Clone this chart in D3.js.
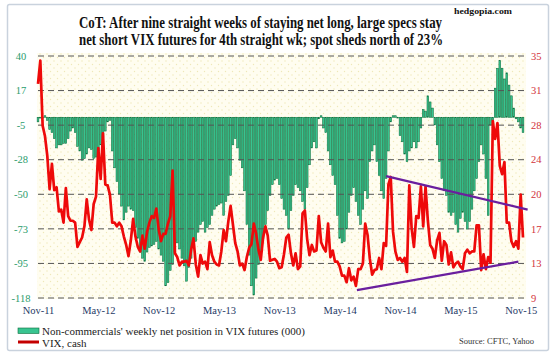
<!DOCTYPE html>
<html><head><meta charset="utf-8">
<script src="https://cdn.jsdelivr.net/npm/d3@7/dist/d3.min.js"></script>
<style>
html,body{margin:0;padding:0;background:#fff;}
svg{display:block;}
text{font-family:"Liberation Serif","Times New Roman",serif;}
</style></head>
<body>
<svg id="c" width="555" height="357"></svg>
<script>
// ---- DATA ----
const startDate = "2011-11-18"; // first weekly observation (weekly thereafter)
const netPosition = [ // non-commercials weekly net position, thousands
 -3,0,0,1,-2,-8,-10,-14,-20,-18,-18,-17,-17,-14,-9,-7,-10,-19,-22,-28,
 -27,-24,-20,-21,-27,-26,-22,-18,-13,-9,-3,-2,-22,-33,-42,-50,-58,-67,-62,-58,
 -60,-61,-72,-79,-88,-92,-94,-88,-85,-84,-83,-81,-86,-90,-94,-110,-108,-100,-96,-88,
 -82,-86,-92,-97,-107,-98,-92,-85,-81,-75,-70,-68,-75,-72,-70,-64,-60,-58,-57,-56,
 -64,-55,-51,-38,-18,-14,-20,-28,-33,-48,-70,-90,-110,-116,-105,-96,-88,-79,-70,-61,
 -51,-44,-41,-40,-44,-53,-60,-64,-73,-61,-51,-44,-46,-48,-55,-60,-46,-31,-20,-16,
 -20,-1,1,-7,-10,-22,-31,-38,-44,-64,-79,-82,-81,-73,-62,-51,-46,-55,-64,-70,
 -60,-48,-53,-29,-22,-18,-29,-38,-48,-53,-40,-22,-3,1,1,0,-12,-16,-24,-29,
 -22,-20,-16,-20,-16,-7,5,4,14,10,6,-5,-18,-29,-40,-48,-51,-62,-64,-62,
 -70,-75,-66,-62,-68,-73,-68,-60,-48,-40,-29,-18,-24,-40,-64,-5,-2,19,32,37,
 32,25,29,21,14,6,-1,-3,-7,-10
];
const vixCash = [ // VIX weekly close
 32.0,34.5,27.5,26.4,24.3,20.7,23.4,
 20.6,20.9,18.3,18.5,17.1,20.8,17.8,17.3,17.3,17.1,14.5,15.0,15.5,16.7,19.6,17.4,16.3,19.1,19.9,25.1,
 21.8,26.7,21.2,21.1,20.1,17.1,17.1,16.7,17.1,16.7,15.6,14.7,13.5,15.2,17.5,15.6,14.5,14.0,15.7,14.3,
 16.1,17.1,17.8,17.6,18.6,16.4,15.1,15.9,15.9,17.0,17.8,22.7,
 13.8,13.4,12.5,12.9,12.9,13.0,12.5,14.2,15.4,12.6,11.3,13.6,12.7,12.9,12.1,15.0,13.6,12.9,12.6,12.5,
 14.0,16.3,15.1,17.2,18.9,16.9,14.9,14.0,12.5,12.7,12.0,13.4,14.4,14.8,17.0,15.9,14.2,13.1,15.5,16.7,
 15.7,13.0,13.1,13.2,12.9,12.2,12.3,13.7,15.5,15.8,13.8,12.5,
 13.8,12.1,12.4,18.1,18.4,15.3,13.6,14.7,14.0,14.1,17.8,15.0,14.4,14.0,17.0,13.4,14.1,12.9,12.9,12.4,
 11.4,11.4,10.7,12.2,10.9,11.3,10.3,12.1,12.1,12.7,17.0,15.8,13.2,11.5,12.0,12.1,13.3,12.1,14.9,14.6,
 21.2,22.0,16.1,14.0,13.1,13.3,12.9,13.3,11.8,21.1,16.5,14.5,
 17.8,17.6,21.0,16.7,21.0,17.3,14.7,14.3,13.3,15.2,16.0,13.0,15.1,14.7,12.6,13.9,12.3,12.7,12.9,12.4,
 12.1,13.8,14.2,13.8,14.0,14.0,16.8,16.8,12.0,13.7,12.1,13.4,12.8,28.0,26.1,27.8,23.2,22.3,23.6,17.1,
 17.1,15.1,14.5,15.1,14.3,20.1,15.5
];
const trendUpper = [ ["2014-10-03", 22.1], ["2015-12-04", 18.5] ];
const trendLower = [ ["2014-07-07", 9.85], ["2015-11-06", 12.9] ];
const leftTickLabels  = ["40","17","-5","-28","-50","-73","-95","-118"];
const rightTickLabels = ["35","31","28","24","20","17","13","9"];
const xLabelEvery = 26; // weeks between x labels
const titleLines = ["CoT: After nine straight weeks of staying net long, large specs stay",
                    "net short VIX futures for 4th straight wk; spot sheds north of 23%"];
const legendLabels = ["Non-commercials' weekly net position in VIX futures (000)", "VIX, cash"];
const siteLabel = "hedgopia.com";
const sourceLabel = "Source: CFTC, Yahoo";

// ---- CHART ----
const svg = d3.select("#c");
const parse = d3.timeParse("%Y-%m-%d");
const t0 = parse(startDate);
const dates = d3.range(vixCash.length).map(i => d3.timeDay.offset(t0, 7*i));

const L = 38, R = 523, T = 56, B = 298;
const x = d3.scaleTime().domain([dates[0], dates[dates.length-1]]).range([L, R]);
const yL = d3.scaleLinear().domain([-118, 40]).range([B, T]);
const yR = d3.scaleLinear().domain([9, 35]).range([B, T]);

// outer frame
svg.append("rect").attr("x",7.5).attr("y",4.5).attr("width",541).attr("height",346)
  .attr("fill","#fff").attr("stroke","#c9d2dd").attr("stroke-width",1.5).attr("rx",2);

// plot background with dot pattern
const defs = svg.append("defs");
const pat = defs.append("pattern").attr("id","dots").attr("width",7).attr("height",7)
  .attr("patternUnits","userSpaceOnUse");
pat.append("rect").attr("width",7).attr("height",7).attr("fill","#fffdf0");
pat.append("circle").attr("cx",1.5).attr("cy",1.5).attr("r",0.7).attr("fill","#efe8b8");
pat.append("circle").attr("cx",5).attr("cy",5).attr("r",0.7).attr("fill","#efe8b8");
svg.append("rect").attr("x",L-1).attr("y",T-3).attr("width",R-L+4).attr("height",B-T+4)
  .attr("fill","url(#dots)");

// bars
const bw = (x(dates[1]) - x(dates[0]));
svg.append("g").selectAll("rect").data(netPosition).join("rect")
  .attr("x",(d,i)=>x(dates[i]) - bw/2 + 0.3)
  .attr("width",bw - 0.6)
  .attr("y",d=>Math.min(yL(d), yL(0)))
  .attr("height",d=>Math.max(0.8, Math.abs(yL(d)-yL(0))))
  .attr("fill","#38c490").attr("stroke","#0b6e3c").attr("stroke-width",0.55);

// gridlines
const leftVals = d3.range(leftTickLabels.length).map(k => 40 - k*158/(leftTickLabels.length-1));
const rightVals = d3.range(rightTickLabels.length).map(k => 35 - k*26/(rightTickLabels.length-1));
svg.append("g").selectAll("line").data(leftVals).join("line")
  .attr("x1",L).attr("x2",R+2).attr("y1",d=>yL(d)).attr("y2",d=>yL(d))
  .attr("stroke","#555").attr("stroke-width",1).attr("stroke-dasharray","6,4");

// axes
const axL = svg.append("g").attr("transform",`translate(21,0)`)
  .call(d3.axisLeft(yL).tickValues(leftVals).tickFormat((d,i)=>leftTickLabels[i]).tickSize(0).tickPadding(0));
axL.select(".domain").remove();
axL.selectAll("text").attr("text-anchor","middle").attr("fill","#2b9c6c").attr("dy","0.3em")
  .style("font-family","Liberation Serif, serif").style("font-size","10.5px");

const axR = svg.append("g").attr("transform",`translate(531,0)`)
  .call(d3.axisRight(yR).tickValues(rightVals).tickFormat((d,i)=>rightTickLabels[i]).tickSize(0).tickPadding(0));
axR.select(".domain").remove();
axR.selectAll("text").attr("fill","#d2323a").attr("dy","0.3em")
  .style("font-family","Liberation Serif, serif").style("font-size","10.5px");

const xTickDates = dates.filter((d,i)=> i % xLabelEvery === 0);
const axX = svg.append("g").attr("transform",`translate(0,314)`)
  .call(d3.axisBottom(x).tickValues(xTickDates).tickFormat(d3.timeFormat("%b-%y")).tickSize(0).tickPadding(0));
axX.select(".domain").remove();
axX.selectAll("text").attr("fill","#1f3a66").attr("dy","0")
  .style("font-family","Liberation Serif, serif").style("font-size","10.5px");

// VIX line
svg.append("path").datum(vixCash)
  .attr("d", d3.line().x((d,i)=>x(dates[i])).y(d=>yR(d)))
  .attr("fill","none").attr("stroke","#ee0a0a").attr("stroke-width",2.7).attr("stroke-linejoin","round");

// trend lines
[trendUpper, trendLower].forEach(tl=>{
  svg.append("line")
    .attr("x1",x(parse(tl[0][0]))).attr("y1",yR(tl[0][1]))
    .attr("x2",x(parse(tl[1][0]))).attr("y2",yR(tl[1][1]))
    .attr("stroke","#6a1f9e").attr("stroke-width",2.2);
});

// title
svg.selectAll(".tt").data(titleLines).join("text").attr("class","tt")
  .attr("x",79).attr("y",(d,i)=>28 + i*17)
  .attr("textLength",(d,i)=> i===0 ? 363 : 364).attr("lengthAdjust","spacingAndGlyphs")
  .attr("font-weight","bold").attr("font-size","16px").attr("fill","#111").text(d=>d);
svg.append("text").attr("x",512).attr("y",13.5).attr("text-anchor","end")
  .attr("textLength",58).attr("lengthAdjust","spacingAndGlyphs")
  .attr("font-weight","bold").attr("font-size","9px").attr("fill","#111").text(siteLabel);

// legend
svg.append("rect").attr("x",18).attr("y",328).attr("width",21).attr("height",5.5)
  .attr("fill","#38c490").attr("stroke","#0b6e3c").attr("stroke-width",0.6);
svg.append("line").attr("x1",18).attr("x2",39).attr("y1",342).attr("y2",342)
  .attr("stroke","#c40000").attr("stroke-width",3);
svg.selectAll(".lg").data(legendLabels).join("text").attr("class","lg")
  .attr("x",42).attr("y",(d,i)=>335 + i*11.5)
  .attr("font-size","11px").attr("fill","#222").text(d=>d);
svg.append("text").attr("x",534).attr("y",344).attr("text-anchor","end")
  .attr("font-size","8.5px").attr("fill","#333").text(sourceLabel);
</script>
</body></html>
